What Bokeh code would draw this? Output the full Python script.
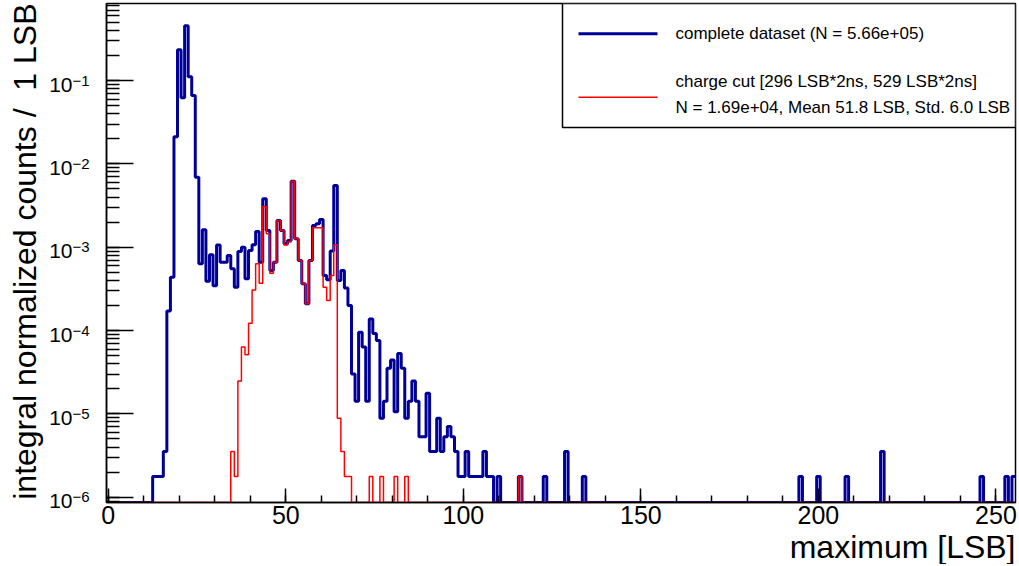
import numpy as np
from bokeh.plotting import figure
from bokeh.models import (Label, BoxAnnotation, FixedTicker, CustomJSTickFormatter, Range1d,
                          Title, LogAxis, LogScale)
from bokeh.embed import file_html
from bokeh.resources import INLINE

# ---------------- data ----------------
N_total = 5.66e5          # entries of the complete dataset (normalisation)
n_bins = 256              # 1 LSB bins centred on 0..255

blue_bins = [13, 14, 15, 16, 17, 18, 19, 20, 21, 22, 23, 24, 25, 26, 27, 28, 29, 30,
             31, 32, 33, 34, 35, 36, 37, 38, 39, 40, 41, 42, 43, 44, 45, 46, 47, 48,
             49, 50, 51, 52, 53, 54, 55, 56, 57, 58, 59, 60, 61, 62, 63, 64, 65, 66,
             67, 68, 69, 70, 71, 72, 73, 74, 75, 76, 77, 78, 79, 80, 81, 82, 83, 84,
             85, 86, 87, 88, 89, 90, 91, 92, 93, 94, 95, 96, 97, 98, 99, 100, 101, 102,
             103, 104, 105, 106, 107, 108, 110, 116, 123, 129, 134, 195, 200, 208, 218,
             246, 253, 255]
blue_counts = [1, 1, 1, 2, 97, 247, 12000, 132400, 35100, 257000, 62800, 37400, 3920, 358,
               916, 221, 460, 195, 600, 374, 374, 450, 312, 187, 502, 566, 236, 517, 605,
               873, 374, 2157, 898, 297, 374, 1184, 898, 622, 681, 3508, 713, 392, 206,
               119, 392, 1031, 1081, 1217, 259, 230, 510, 3112, 226, 297, 184, 113, 17,
               8, 54, 36, 8, 78, 52, 43, 5, 8, 20, 25, 6, 30, 20, 5, 8, 14, 8, 3, 3, 10,
               2, 2, 5, 2, 3, 4, 3, 2, 1, 1, 2, 1, 1, 1, 1, 2, 1, 1, 1, 1, 1, 2, 1, 1, 1,
               1, 2, 1, 1, 1]

red_bins = [35, 36, 37, 38, 39, 40, 41, 42, 43, 44, 45, 46, 47, 48, 49, 50, 51, 52, 53,
            54, 55, 56, 57, 58, 59, 60, 61, 62, 63, 64, 65, 66, 67, 68, 74, 77, 81, 84, 116]
red_counts = [2, 1, 14, 36, 29, 69, 174, 358, 209, 1742, 820, 276, 374, 1184, 898, 601,
              654, 3508, 713, 392, 206, 119, 392, 968, 968, 968, 187, 130, 259, 605, 5, 2,
              1, 1, 1, 1, 1, 1, 1]

x_tick_values = [0, 50, 100, 150, 200, 250]
x_minor_values = list(range(0, 256, 10))
y_decades = [-6, -5, -4, -3, -2, -1]

legend_blue = "complete dataset (N = 5.66e+05)"
legend_red_1 = "charge cut [296 LSB*2ns, 529 LSB*2ns]"
legend_red_2 = "N = 1.69e+04, Mean 51.8 LSB, Std. 6.0 LSB"
x_title = "maximum [LSB]"
y_title = "integral normalized counts / \u00a01 LSB"

# ---------------- layout ----------------
L, R, T = 106, 4, 3
fw, fh = 909, 499
x_lo, x_hi = -0.5, n_bins - 0.5
decade_px = 83.33
log_bot = -6.0636
log_top = log_bot + fh / decade_px
ymin, ymax = 10 ** log_bot, 10 ** log_top


def xd(px):
    return x_lo + (px - L) / fw * (x_hi - x_lo)


def yd(py):
    return 10 ** (log_top - (py - T) / decade_px)


def hist_line(bins, counts):
    v = np.full(n_bins, ymin)
    for b, c in zip(bins, counts):
        v[b] = c / N_total
    edges = np.arange(n_bins + 1) - 0.5
    return edges, np.append(v, v[-1])


FONT = "Liberation Sans"
BLUE = "#000099"
RED = "#ff0000"

p = figure(frame_width=fw, frame_height=fh, x_range=Range1d(x_lo, x_hi),
           y_range=Range1d(ymin, ymax), y_axis_type="log", output_backend="svg",
           toolbar_location=None, min_border_left=L, min_border_right=R,
           min_border_top=T, min_border_bottom=0)
p.grid.visible = False
p.background_fill_color = "white"
p.border_fill_color = "white"
p.outline_line_color = "black"
p.outline_line_width = 1.5

# x axis
xa = p.xaxis[0]
xa.ticker = FixedTicker(ticks=x_tick_values, minor_ticks=x_minor_values)
xa.major_label_text_font = FONT
xa.major_label_text_font_size = "25px"
xa.major_label_text_color = "black"
xa.major_label_text_line_height = 0.8
xa.major_label_standoff = 3
xa.major_tick_in = 14
xa.major_tick_out = 0
xa.minor_tick_in = 7
xa.minor_tick_out = 0
xa.axis_line_width = 1.5
xa.major_tick_line_width = 1.5
xa.minor_tick_line_width = 1.5

# y axis (log) : ticks only
ya = p.yaxis[0]
y_major = [10.0 ** k for k in y_decades]
y_minor = [m * 10.0 ** k for k in range(-7, 0) for m in range(1, 10)]
ya.ticker = FixedTicker(ticks=y_major, minor_ticks=y_minor)
ya.formatter = CustomJSTickFormatter(code="return ''")
ya.major_label_standoff = 0
ya.major_tick_in = 27
ya.major_tick_out = 0
ya.minor_tick_in = 13
ya.minor_tick_out = 0
ya.axis_line_width = 1.5
ya.major_tick_line_width = 1.5
ya.minor_tick_line_width = 1.5

# exponent labels (next to the frame) and base "10" labels (further out)
exp_shift = 0.0 / decade_px
ten_shift = 4.0 / decade_px
p.extra_y_ranges = {"exp": Range1d(ymin * 10 ** exp_shift, ymax * 10 ** exp_shift),
                    "ten": Range1d(ymin * 10 ** ten_shift, ymax * 10 ** ten_shift)}
p.extra_y_scales = {"exp": LogScale(), "ten": LogScale()}

exp_axis = LogAxis(y_range_name="exp", ticker=FixedTicker(ticks=y_major, minor_ticks=[]),
                   formatter=CustomJSTickFormatter(
                       code="return '\u2212' + String(-Math.round(Math.log10(tick)));"),
                   major_label_text_font=FONT, major_label_text_font_size="15px",
                   major_label_text_color="black", major_label_standoff=17,
                   axis_line_color=None, major_tick_line_color=None,
                   minor_tick_line_color=None, major_tick_in=0, major_tick_out=0,
                   minor_tick_in=0, minor_tick_out=0)
ten_axis = LogAxis(y_range_name="ten", ticker=FixedTicker(ticks=y_major, minor_ticks=[]),
                   formatter=CustomJSTickFormatter(code="return '10';"),
                   major_label_text_font=FONT, major_label_text_font_size="21px",
                   major_label_text_color="black", major_label_standoff=-3,
                   axis_line_color=None, major_tick_line_color=None,
                   minor_tick_line_color=None, major_tick_in=0, major_tick_out=0,
                   minor_tick_in=0, minor_tick_out=0)
p.add_layout(exp_axis, "left")
p.add_layout(ten_axis, "left")

# axis titles
p.add_layout(Title(text=x_title, align="right", text_font=FONT, text_font_size="32px",
                   text_font_style="normal", text_color="black", text_line_height=0.8,
                   standoff=0), "below")
p.add_layout(Title(text=y_title, align="right", vertical_align="middle", text_font=FONT,
                   text_font_size="32px", text_font_style="normal", text_color="black",
                   standoff=6), "left")

# histograms
bx, by = hist_line(blue_bins, blue_counts)
p.step(bx, by, mode="after", line_color=BLUE, line_width=3)
rx, ry = hist_line(red_bins, red_counts)
p.step(rx, ry, mode="after", line_color=RED, line_width=1.5)

# legend
p.add_layout(BoxAnnotation(left=xd(562), right=xd(1015), top=yd(3), bottom=yd(127),
                           fill_color="white", fill_alpha=1.0, line_color="black",
                           line_alpha=1.0, line_width=1.5, level="underlay"))
p.line([xd(578), xd(657)], [yd(33.3), yd(33.3)], line_color=BLUE, line_width=3)
p.line([xd(578), xd(657)], [yd(96.7), yd(96.7)], line_color=RED, line_width=1.5)
for txt, py in [(legend_blue, 33.3), (legend_red_1, 80.5), (legend_red_2, 106.5)]:
    p.add_layout(Label(x=xd(675), y=yd(py), text=txt, text_align="left",
                       text_baseline="middle", text_font=FONT, text_font_size="17px",
                       text_color="black"))

open("out.html", "w").write(file_html(p, INLINE))
